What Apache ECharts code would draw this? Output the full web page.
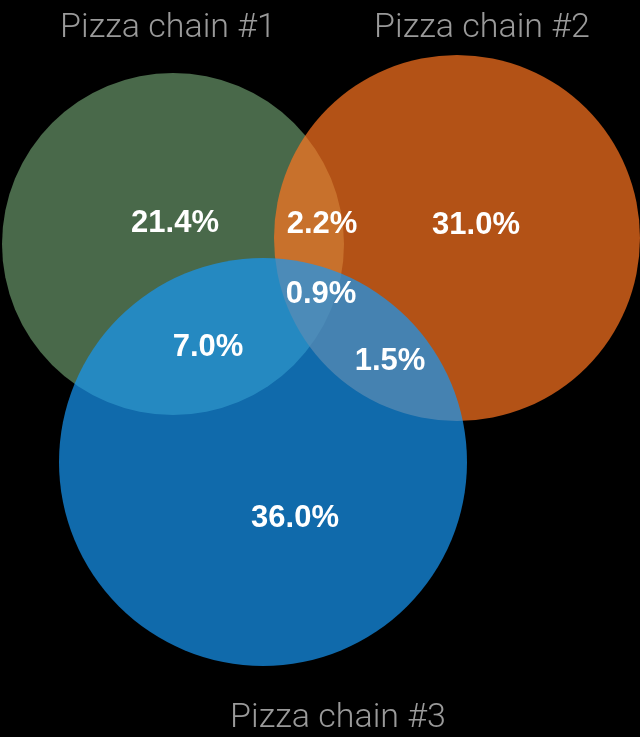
<!DOCTYPE html>
<html>
<head>
    <meta charset="utf-8">
    <title>Pizza chains Venn</title>
    <script src="https://cdn.jsdelivr.net/npm/echarts@6/dist/echarts.min.js"></script>
    <style>
        html, body { margin: 0; padding: 0; background: #000; }
    </style>
</head>
<body>
<div id="main" style="width: 640px;height:737px;"></div>
<script type="text/javascript">
  // venn geometry (plot units, y grows downward)
  var setNames = ['Pizza chain #1', 'Pizza chain #2', 'Pizza chain #3'];
  var circleX = [173, 457, 263];
  var circleY = [244, 238, 462];
  var circleR = [171, 183, 204];
  var circleColors = ['#68956a', '#ff7520', '#1797f3'];

  // region shares and where their labels sit
  var regionLabels = ['21.4%', '2.2%', '31.0%', '0.9%', '7.0%', '1.5%', '36.0%'];
  var regionX = [175, 322, 476, 321, 208, 390, 295];
  var regionY = [223, 224, 225, 294, 347, 361, 518];

  // set name positions
  var nameX = [168, 482, 338];
  var nameY = [28, 28, 718];

  var myChart = echarts.init(document.getElementById('main'));

  var circleData = circleX.map(function (x, i) {
    return [x, circleY[i], circleR[i], i];
  });
  var regionData = regionLabels.map(function (t, i) {
    return { value: [regionX[i], regionY[i]], name: t };
  });
  var nameData = setNames.map(function (t, i) {
    return { value: [nameX[i], nameY[i]], name: t };
  });

  option = {
    backgroundColor: '#000',
    animation: false,
    grid: { left: 0, right: 0, top: 0, bottom: 0 },
    xAxis: { type: 'value', min: 0, max: 640, show: false },
    yAxis: { type: 'value', min: 0, max: 737, inverse: true, show: false },
    series: [
      {
        type: 'custom',
        data: circleData,
        renderItem: function (params, api) {
          var c = api.coord([api.value(0), api.value(1)]);
          var r = api.size([api.value(2), 0])[0];
          return {
            type: 'circle',
            shape: { cx: c[0], cy: c[1], r: r },
            style: { fill: circleColors[api.value(3)], opacity: 0.7 }
          };
        },
        z: 1
      },
      {
        type: 'scatter',
        data: regionData,
        symbolSize: 0,
        z: 5,
        label: {
          show: true,
          position: 'inside',
          formatter: '{b}',
          color: '#ffffff',
          opacity: 1,
          textBorderWidth: 0,
          textShadowBlur: 0,
          fontFamily: 'Liberation Sans',
          fontWeight: 'bold',
          fontSize: 31
        }
      },
      {
        type: 'scatter',
        data: nameData,
        symbolSize: 0,
        z: 5,
        label: {
          show: true,
          position: 'inside',
          formatter: '{b}',
          color: '#9a9a9a',
          opacity: 1,
          textBorderWidth: 0,
          fontFamily: 'Roboto',
          fontWeight: 300,
          fontSize: 34
        }
      }
    ]
  };
  myChart.setOption(option);
</script>
</body>
</html>
